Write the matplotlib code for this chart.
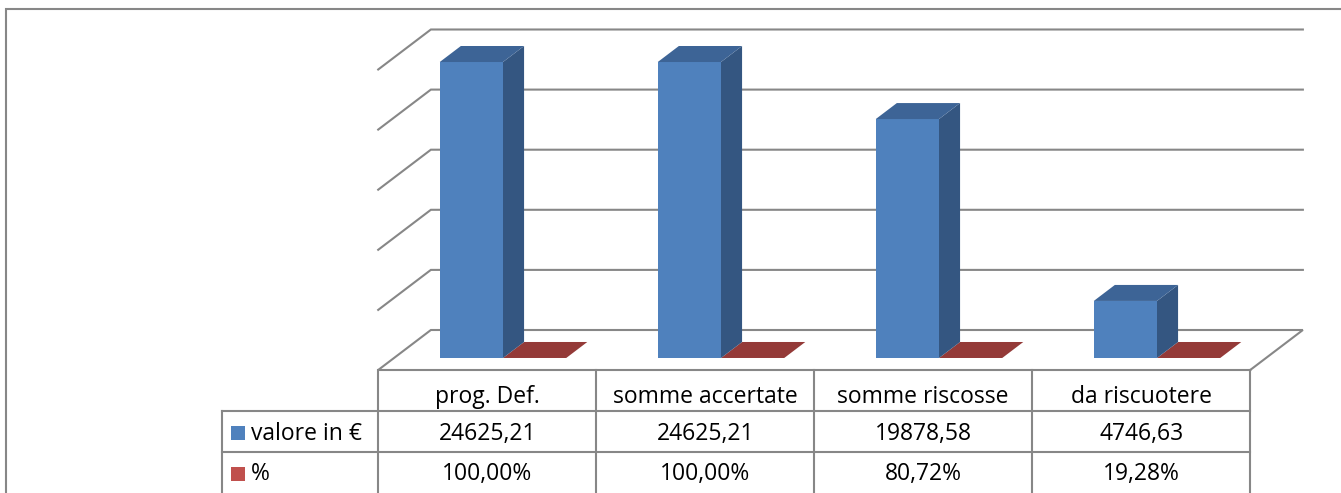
import numpy as np
import matplotlib
matplotlib.use("Agg")
import matplotlib.pyplot as plt
from matplotlib.patches import Polygon
from matplotlib.lines import Line2D

plt.rcParams['font.family'] = ['Open Sans', 'DejaVu Sans']

#Data
categories = ["prog. Def.", "somme accertate", "somme riscosse", "da riscuotere"]
series_names = ["valore in \u20ac", "%"]
valori = [24625.21, 24625.21, 19878.58, 4746.63]
percentuali = [1.0, 1.0, 0.8072, 0.1928]
valori_labels = ["24625,21", "24625,21", "19878,58", "4746,63"]
percentuali_labels = ["100,00%", "100,00%", "80,72%", "19,28%"]
y_ticks = [0, 5000, 10000, 15000, 20000, 25000]

#Styles
W, H = 1341, 493
grid_color = "#878787"
blue_front, blue_top, blue_side = "#4F81BD", "#3D6496", "#345681"
red_front, red_top, red_side = "#C0504D", "#943A38", "#7A2F2D"
legend_colors = ["#4F81BD", "#C0504D"]
depth_slope = 1.317   # x px per y px along the depth axis
floor_front, bar_back, wall_back = -12, 16, 28
bar_w = 0.29

fig = plt.figure(figsize=(W / 100, H / 100), dpi=100)

#Overlay axes in pixel coordinates for the frame and the data table
pix = fig.add_axes([0, 0, 1, 1])
pix.set_xlim(0, W)
pix.set_ylim(H, 0)
pix.axis("off")

#Axes for the plane of the bars' front faces
left, right = 394, 1266
base, top = 358, 57.5
ax = fig.add_axes([left / W, (H - base) / H, (right - left) / W, (base - top) / H])
ax.set_xlim(0, len(categories))
ax.set_ylim(0, 25000)
ax.axis("off")


def proj(x, y, d):
    # point on the front plane pushed back by d pixels of depth, in ax data coords
    px, py = ax.transData.transform((x, y))
    return ax.transData.inverted().transform((px + depth_slope * d, py + d))


def poly(pts, color, z):
    ax.add_patch(Polygon(pts, closed=True, facecolor=color, edgecolor="none",
                         zorder=z, clip_on=False))


n = len(categories)

#Floor and walls gridlines
for v in y_ticks:
    pts = [proj(0, v, floor_front), proj(0, v, wall_back), proj(n, v, wall_back)]
    if v == 0:
        pts = [proj(n, v, floor_front)] + pts + [proj(n, v, floor_front)]
    xs, ys = zip(*pts)
    ax.add_line(Line2D(xs, ys, color=grid_color, lw=1.5, zorder=1, clip_on=False,
                       solid_joinstyle="miter"))


def bar3d(x0, x1, h, front, topc, side, z):
    d = bar_back
    poly([proj(x0, 0, 0), proj(x1, 0, 0), proj(x1, h, 0), proj(x0, h, 0)], front, z + 0.2)
    poly([proj(x1, 0, 0), proj(x1, 0, d), proj(x1, h, d), proj(x1, h, 0)], side, z + 0.1)
    poly([proj(x0, h, 0), proj(x1, h, 0), proj(x1, h, d), proj(x0, h, d)], topc, z + 0.3)


for i in range(n):
    c = i + 0.5
    bar3d(c, c + bar_w, percentuali[i], red_front, red_top, red_side, 2 + i)
    bar3d(c - bar_w, c, valori[i], blue_front, blue_top, blue_side, 3 + i)

#Outer chart frame
pix.plot([6, 6, W], [H, 9, 9], color=grid_color, lw=1.5, solid_joinstyle="miter")

#Data table
col_edges = [ax.transData.transform((k, 0))[0] + depth_slope * floor_front for k in range(n + 1)]
row_top = H - (ax.transData.transform((0, 0))[1] + floor_front)
row_h = 41
rows = [row_top, row_top + row_h, row_top + 2 * row_h, row_top + 3 * row_h]
leg_left = 222

for e in col_edges:
    pix.plot([e, e], [rows[0], H], color=grid_color, lw=1.5)
pix.plot([leg_left, leg_left], [rows[1], H], color=grid_color, lw=1.5)
for r in rows[1:3]:
    pix.plot([leg_left, col_edges[-1]], [r, r], color=grid_color, lw=1.5)

fs = 16.5
baselines = [rows[0] + 33, rows[1] + 29, rows[2] + 28]
for i in range(n):
    cx = (col_edges[i] + col_edges[i + 1]) / 2
    pix.text(cx, baselines[0], categories[i], ha="center", va="baseline", fontsize=fs)
    pix.text(cx, baselines[1], valori_labels[i], ha="center", va="baseline", fontsize=fs)
    pix.text(cx, baselines[2], percentuali_labels[i], ha="center", va="baseline", fontsize=fs)

for k, name in enumerate(series_names):
    cy = (rows[k + 1] + rows[k + 2]) / 2 + 1
    pix.add_patch(Polygon([(231, cy - 7), (245, cy - 7), (245, cy + 7), (231, cy + 7)],
                          closed=True, facecolor=legend_colors[k], edgecolor="none"))
    pix.text(251, baselines[k + 1], name, ha="left", va="baseline", fontsize=fs)

fig.savefig("out.png", dpi=100)
